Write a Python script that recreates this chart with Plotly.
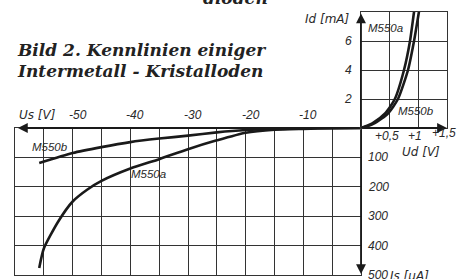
import plotly.graph_objects as go

# ---- data ----
# reverse characteristics (Us in V, Is in µA)
rev_a_v = [-55.8, -55, -52.5, -50, -47.5, -45, -40, -35, -30, -25, -20, -15, -10, -5, 0]
rev_a_i = [476, 410, 318, 250, 210, 180, 138, 106, 72, 42, 16, 6, 3, 1, 0]
rev_b_v = [-55.8, -50, -45, -40, -35, -30, -25, -20, -15, -10, -5, 0]
rev_b_i = [119, 85, 65, 48, 36, 26, 15, 7, 3, 1.5, 0.5, 0]
# forward characteristics (Ud in V, Id in mA)
fwd_a_v = [0, 0.07, 0.21, 0.42, 0.59, 0.75, 0.855, 0.925, 0.95]
fwd_a_i = [0, 0.1, 0.35, 1.0, 2.0, 4.0, 6.0, 8.0, 8.6]
fwd_b_v = [0, 0.1, 0.24, 0.47, 0.645, 0.82, 0.925, 1.01, 1.03]
fwd_b_i = [0, 0.1, 0.33, 1.0, 2.0, 4.0, 6.0, 8.0, 8.5]

rev_v_ticks = [-50, -40, -30, -20, -10]
fwd_v_ticks = [0.5, 1, 1.5]
fwd_v_labels = ["+0,5", "+1", "+1,5"]
fwd_i_ticks = [2, 4, 6]
rev_i_ticks = [100, 200, 300, 400, 500]

W, H = 464, 279
def px(p): return p / W
def py(p): return (H - p) / H

INK = "#1a1a1a"
GRID = "#333333"
NUM = dict(family="Liberation Sans", size=12, color="#2a2a2a")
NAME = dict(family="DejaVu Sans", size=12, color="#2a2a2a")

fig = go.Figure()
line = dict(color=INK, width=2.6, shape="spline", smoothing=0.6)
fig.add_trace(go.Scatter(x=rev_a_v, y=rev_a_i, xaxis="x", yaxis="y2", mode="lines", line=line, name="M550a"))
fig.add_trace(go.Scatter(x=rev_b_v, y=rev_b_i, xaxis="x", yaxis="y2", mode="lines", line=line, name="M550b"))
fig.add_trace(go.Scatter(x=fwd_a_v, y=fwd_a_i, xaxis="x2", yaxis="y", mode="lines", line=line, name="M550a"))
fig.add_trace(go.Scatter(x=fwd_b_v, y=fwd_b_i, xaxis="x2", yaxis="y", mode="lines", line=line, name="M550b"))

ax_common = dict(showgrid=True, gridcolor=GRID, gridwidth=1.1, zeroline=False,
                 showline=True, linecolor=GRID, linewidth=1.3, mirror=True,
                 showticklabels=False, ticks="", fixedrange=True)

fig.update_layout(
    width=W, height=H, margin=dict(l=0, r=0, t=0, b=0),
    paper_bgcolor="white", plot_bgcolor="white", showlegend=False,
    xaxis=dict(domain=[px(15), px(361)], range=[-60, 0], dtick=5, tick0=0,
               anchor="y2", side="top", **ax_common),
    yaxis2=dict(domain=[py(275), py(128)], range=[500, 0], dtick=100, tick0=0,
                anchor="x", side="right", **ax_common),
    xaxis2=dict(domain=[px(361), px(447)], range=[0, 1.5], dtick=0.5, tick0=0,
                anchor="y", **ax_common),
    yaxis=dict(domain=[py(128), py(12)], range=[0, 8], dtick=2, tick0=0,
               anchor="x2", **ax_common),
)

ann = []
# axis arrows
arrow = dict(showarrow=True, arrowhead=2, arrowsize=1.1, arrowwidth=1.8, arrowcolor=INK, text="")
ann.append(dict(x=-59.5, y=0, xref="x", yref="y2", ax=0, ay=0, axref="x", ayref="y2", **arrow))
ann.append(dict(x=1.5, y=0, xref="x2", yref="y", ax=0, ay=0, axref="x2", ayref="y", **arrow))
ann.append(dict(x=0, y=7.9, xref="x2", yref="y", ax=0, ay=0, axref="x2", ayref="y", **arrow))
ann.append(dict(x=0, y=497, xref="x", yref="y2", ax=0, ay=0, axref="x", ayref="y2", **arrow))

def T(**kw):
    d = dict(showarrow=False, xanchor="center", yanchor="middle")
    d.update(kw)
    return d

# reverse voltage tick labels
for v in rev_v_ticks:
    ann.append(T(x=v, y=0, xref="x", yref="y2", text=f"<i>{v}</i>", xshift=5, yshift=13, font=NUM))
ann.append(T(x=px(37), y=py(115), xref="paper", yref="paper", text="<i>Us [V]</i>", font=NAME))
# forward voltage labels
for v, t in zip(fwd_v_ticks, fwd_v_labels):
    ann.append(T(x=v, y=0, xref="x2", yref="y", text=f"<i>{t}</i>", xshift=-3,
                 yshift=-8 + (3 if v == 1.5 else 0), font=NUM))
ann.append(T(x=px(421), y=py(152), xref="paper", yref="paper", text="<i>Ud [V]</i>", font=NAME))
# forward current labels
for i in fwd_i_ticks:
    ann.append(T(x=0, y=i, xref="x2", yref="y", text=f"<i>{i}</i>", xanchor="right", xshift=-7, font=NUM))
ann.append(T(x=px(327), y=py(19), xref="paper", yref="paper", text="<i>Id [mA]</i>", font=NAME))
# reverse current labels
for i in rev_i_ticks:
    ann.append(T(x=0, y=i, xref="x", yref="y2", text=f"<i>{i}</i>", xanchor="left", xshift=5, font=NUM))
ann.append(T(x=px(409), y=py(276), xref="paper", yref="paper", text="<i>Is [µA]</i>", font=NAME))
# series labels
SER = dict(family="Liberation Sans", size=11.5, color="#2a2a2a")
ann.append(T(x=0.42, y=6.9, xref="x2", yref="y", text="<i>M550a</i>", font=SER))
ann.append(T(x=0.96, y=1.17, xref="x2", yref="y", text="<i>M550b</i>", font=SER))
ann.append(T(x=-53.9, y=65, xref="x", yref="y2", text="<i>M550b</i>", font=SER))
ann.append(T(x=-36.9, y=156, xref="x", yref="y2", text="<i>M550a</i>", font=SER))
# title
tf = dict(family="DejaVu Serif", size=17, color="#222222")
ann.append(T(x=px(15), y=py(50), xref="paper", yref="paper", xanchor="left",
             text="<b><i>Bild 2. Kennlinien einiger</i></b>", font=tf))
ann.append(T(x=px(15), y=py(71), xref="paper", yref="paper", xanchor="left",
             text="<b><i>Intermetall - Kristalloden</i></b>", font=tf))
ann.append(T(x=px(236), y=py(10), xref="paper", yref="paper", yanchor="bottom",
             text="<b><i>dioden</i></b>", font=tf))

fig.update_layout(annotations=ann)
fig.write_html("out.html", config={"displayModeBar": False},
               post_script="document.body.style.margin='0';document.body.style.overflow='hidden';")
